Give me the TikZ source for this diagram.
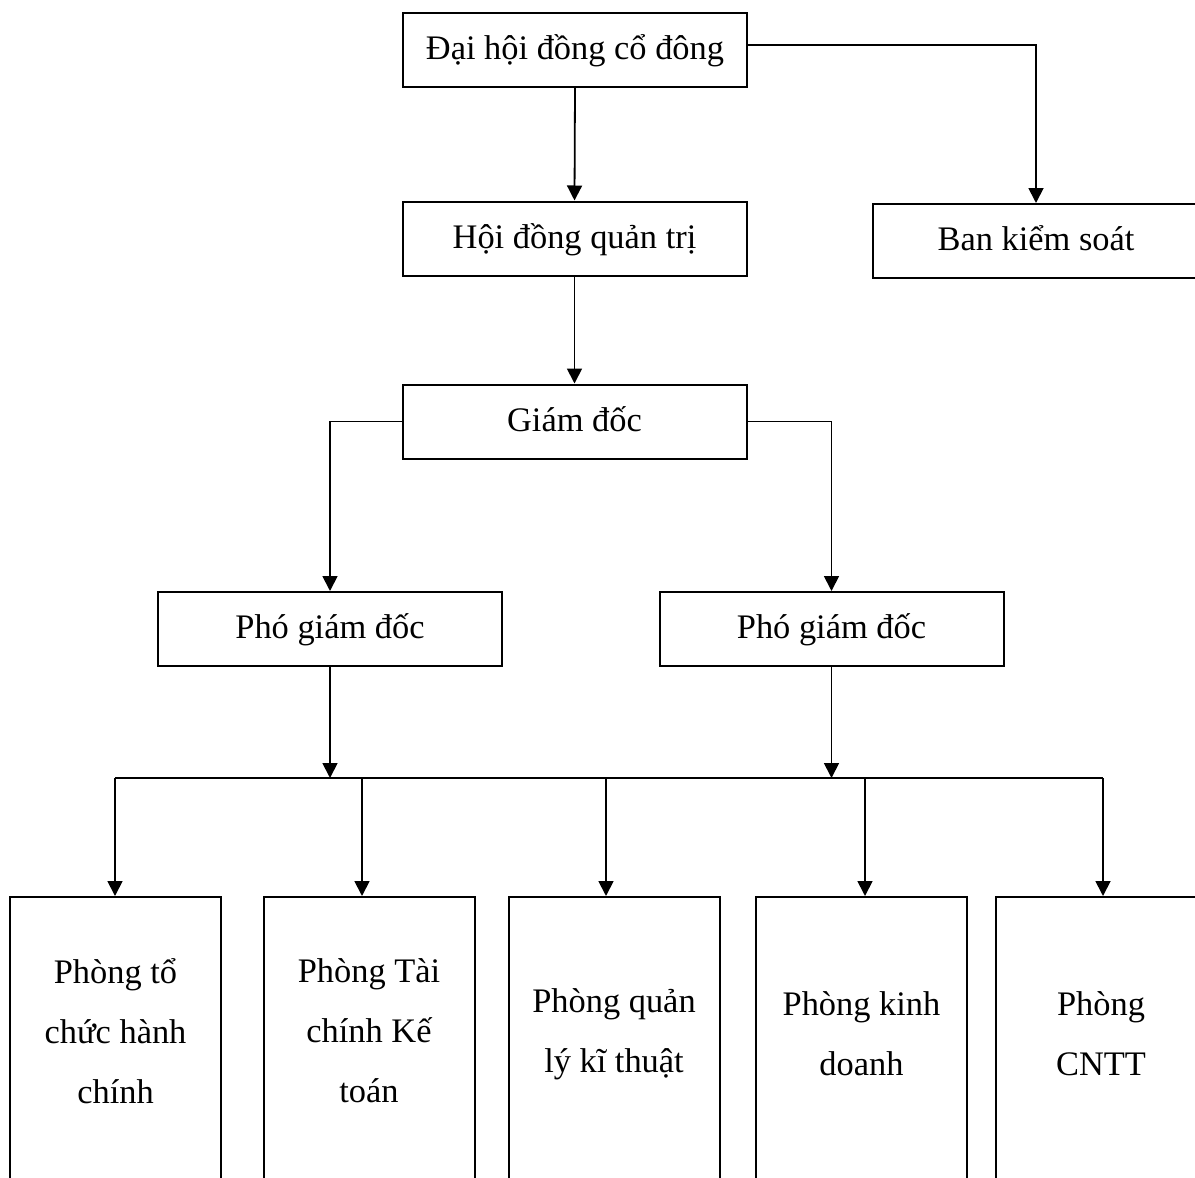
\documentclass[tikz,border=0pt]{standalone}
\usepackage{fontspec}
\setmainfont{Liberation Serif}
\usetikzlibrary{arrows.meta,calc}
\begin{document}
\begin{tikzpicture}[x=0.5pt,y=-0.5pt,
  box/.style={draw, line width=1pt, minimum width=172pt, minimum height=37pt, inner sep=0pt,
    text height=12pt, text depth=2.5pt, font=\fontsize{17.2}{30}\selectfont},
  dept/.style={draw, line width=1pt, minimum width=105.5pt, minimum height=176.5pt, inner sep=0pt},
  lbl/.style={align=center, font=\fontsize{17.2}{30}\selectfont, inner sep=0pt},
  conn/.style={line width=0.9pt},
  arr/.style={conn, -{Triangle[width=7.5pt,length=7.5pt]}}]
\useasboundingbox (0,0) rectangle (1195,1178);
\clip (0,0) rectangle (1195,1178);
% top levels
\node[box] (dh) at (575,50) {Đại hội đồng cổ đông};
\node[box] (hd) at (574.5,238.5) {Hội đồng quản trị};
\node[box, minimum width=163pt] (bks) at (1036,241) {Ban kiểm soát};
\node[box] (gd) at (574.5,421.5) {Giám đốc};
\node[box] (p1) at (330,629) {Phó giám đốc};
\node[box] (p2) at (831.5,629) {Phó giám đốc};
% departments
\node[dept] (b1) at (115.5,1073.5) {};
\node[dept] (b2) at (369,1073.5) {};
\node[dept] (b3) at (614,1073.5) {};
\node[dept] (b4) at (861.5,1073.5) {};
\node[dept] (b5) at (1101,1073.5) {};
\node[lbl] (t1) at (115.5,1031) {Phòng tổ\\chức hành\\chính};
\node[lbl] (t2) at (369,1031) {Phòng Tài\\chính Kế\\toán};
\node[lbl] (t3) at (614,1034) {Phòng quản\\lý kĩ thuật};
\node[lbl] (t4) at (861.5,1034) {Phòng kinh\\doanh};
\node[lbl] (t5) at (1101,1034) {Phòng\\CNTT};
% bus coordinates
\coordinate (c1) at (115,778);
\coordinate (c2) at (362,778);
\coordinate (c3) at (606,778);
\coordinate (c4) at (865,778);
\coordinate (c5) at (1103,778);
% connectors
\draw[arr] (dh.south) -- (hd.north);
\draw[arr] ([yshift=2.5pt]dh.east) -| (bks.north);
\draw[arr] (hd.south) -- (gd.north);
\draw[arr] (gd.west) -| (p1.north);
\draw[arr] (gd.east) -| (p2.north);
\draw[conn] (c1) -- (c5);
\draw[arr] (p1.south) -- (p1.south |- c1);
\draw[arr] (p2.south) -- (p2.south |- c1);
\draw[arr] (c1) -- (c1 |- b1.north);
\draw[arr] (c2) -- (c2 |- b2.north);
\draw[arr] (c3) -- (c3 |- b3.north);
\draw[arr] (c4) -- (c4 |- b4.north);
\draw[arr] (c5) -- (c5 |- b5.north);
\end{tikzpicture}
\end{document}
